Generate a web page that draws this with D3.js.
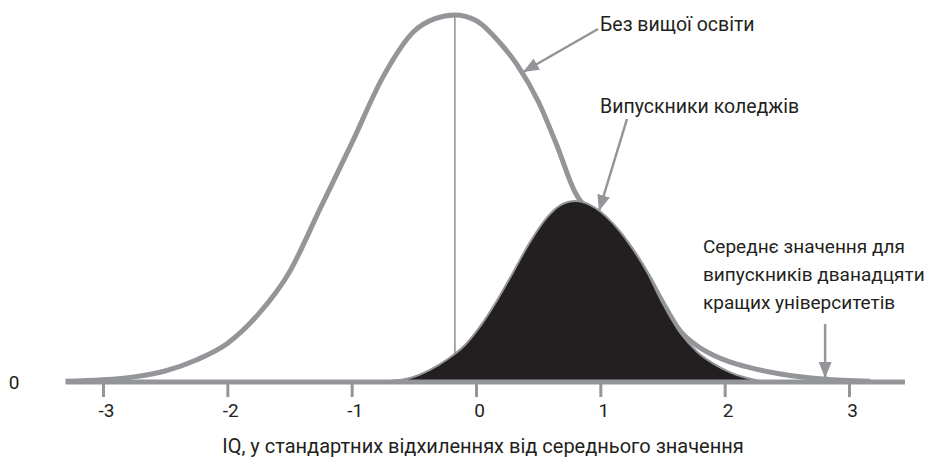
<!DOCTYPE html>
<html>
<head>
<meta charset="utf-8">
<script src="https://cdn.jsdelivr.net/npm/d3@7"></script>
<style>
  body { margin: 0; background: #fff; }
  text { font-family: Roboto, "Open Sans", sans-serif; fill: #231f20; }
</style>
</head>
<body>
<script>
// IQ in standard deviations, relative density (peak of the white curve = 1)
var noDegreeIQ = [-3.3, -3.0, -2.75, -2.5, -2.25, -2.0, -1.75, -1.5, -1.25, -1.0, -0.75, -0.5, -0.33, -0.17,
                  0.0, 0.19, 0.33, 0.5, 0.65, 0.8, 0.88, 0.95, 1.10, 1.24, 1.38, 1.50, 1.64, 1.78, 1.91, 2.04, 2.18,
                  2.45, 2.79, 3.17];
var noDegreeDensity = [0.002, 0.006, 0.014, 0.030, 0.060, 0.105, 0.185, 0.300, 0.475, 0.650, 0.830, 0.955, 0.990, 1.000,
                       0.985, 0.925, 0.865, 0.765, 0.645, 0.515, 0.478, 0.465, 0.425, 0.366, 0.292, 0.218, 0.140, 0.098,
                       0.073, 0.055, 0.041, 0.022, 0.008, 0.002];

var collegeIQ = [-0.69, -0.53, -0.37, -0.23, -0.09, 0.03, 0.17, 0.30, 0.43, 0.57, 0.68, 0.80, 0.92, 1.10,
                 1.24, 1.38, 1.50, 1.64, 1.78, 1.91, 2.04, 2.18, 2.28];
var collegeDensity = [0.003, 0.011, 0.033, 0.062, 0.100, 0.150, 0.223, 0.300, 0.379, 0.448, 0.482, 0.493, 0.482, 0.433,
                      0.373, 0.297, 0.215, 0.135, 0.082, 0.050, 0.027, 0.011, 0.003];

var meanNoDegree = -0.17;       // vertical line
var meanLineRange = [0.079, 1.0];
var topUniversitiesMean = 2.8;  // arrow on the axis

var tickValues = [-3, -2, -1, 0, 1, 2, 3];
var axisRange = [-3.3, 3.45];

var labelNoDegree = "Без вищої освіти";
var labelCollege = "Випускники коледжів";
var labelTop = ["Середнє значення для", "випускників дванадцяти", "кращих університетів"];
var xTitle = "IQ, у стандартних відхиленнях від середнього значення";

var grey = "#939598";
var width = 934, height = 460;

var svg = d3.select("body").append("svg")
    .attr("width", width)
    .attr("height", height);

var x = d3.scaleLinear().domain([-3, 3]).range([103, 849]);
var y = d3.scaleLinear().domain([0, 1]).range([382, 15]);

var noDegree = noDegreeIQ.map(function(d, i) { return [d, noDegreeDensity[i]]; });
var college = collegeIQ.map(function(d, i) { return [d, collegeDensity[i]]; });

var line = d3.line()
    .x(function(d) { return x(d[0]); })
    .y(function(d) { return y(d[1]); })
    .curve(d3.curveMonotoneX);

var area = d3.area()
    .x(function(d) { return x(d[0]); })
    .y0(y(0))
    .y1(function(d) { return y(d[1]); })
    .curve(d3.curveMonotoneX);

// arrow head
svg.append("defs").append("marker")
    .attr("id", "head")
    .attr("markerUnits", "userSpaceOnUse")
    .attr("viewBox", "0 -7 16 14")
    .attr("refX", 16).attr("refY", 0)
    .attr("markerWidth", 16).attr("markerHeight", 14)
    .attr("orient", "auto")
  .append("path")
    .attr("d", "M0,-6.5L16,0L0,6.5Z")
    .attr("fill", grey);

// ticks under the axis
var axis = d3.axisBottom(x)
    .tickValues(tickValues)
    .tickSize(15)
    .tickPadding(7)
    .tickFormat(function(d) { return String(d); });

var gx = svg.append("g")
    .attr("transform", "translate(0," + y(0) + ")")
    .call(axis);
gx.select(".domain").remove();
gx.selectAll(".tick line").attr("stroke", grey).attr("stroke-width", 3);
gx.selectAll(".tick text")
    .attr("fill", "#231f20")
    .attr("dx", 3)
    .style("font-family", "Roboto, sans-serif")
    .style("font-size", "19px");

// white curve
svg.append("path")
    .datum(noDegree)
    .attr("d", line)
    .attr("fill", "none")
    .attr("stroke", grey)
    .attr("stroke-width", 5);

// vertical line at the mean
svg.append("line")
    .attr("x1", x(meanNoDegree)).attr("x2", x(meanNoDegree))
    .attr("y1", y(meanLineRange[1])).attr("y2", y(meanLineRange[0]))
    .attr("stroke", grey)
    .attr("stroke-width", 1.6);

// college graduates
svg.append("path")
    .datum(college)
    .attr("d", area)
    .attr("fill", "#231f20")
    .attr("stroke", grey)
    .attr("stroke-width", 2);

// axis line
svg.append("line")
    .attr("x1", x(axisRange[0])).attr("x2", x(axisRange[1]))
    .attr("y1", y(0)).attr("y2", y(0))
    .attr("stroke", grey)
    .attr("stroke-width", 5);

svg.append("text")
    .attr("x", 14).attr("y", y(0) + 7)
    .attr("text-anchor", "middle")
    .style("font-size", "19px")
    .text("0");

// arrows
var arrows = [
    [598, 29, 523, 72],
    [627, 119, 599, 211],
    [x(topUniversitiesMean) + 1, 324, x(topUniversitiesMean) + 1, 378]
];
svg.selectAll("line.arrow")
    .data(arrows)
    .enter().append("line")
    .attr("class", "arrow")
    .attr("x1", function(d) { return d[0]; })
    .attr("y1", function(d) { return d[1]; })
    .attr("x2", function(d) { return d[2]; })
    .attr("y2", function(d) { return d[3]; })
    .attr("stroke", grey)
    .attr("stroke-width", 2.5)
    .attr("marker-end", "url(#head)");

// labels
svg.append("text").attr("x", 600).attr("y", 31)
    .style("font-size", "19.5px").text(labelNoDegree);
svg.append("text").attr("x", 600).attr("y", 113)
    .style("font-size", "19.5px").text(labelCollege);

svg.selectAll("text.top")
    .data(labelTop)
    .enter().append("text")
    .attr("class", "top")
    .attr("x", 703)
    .attr("y", function(d, i) { return 253 + i * 28; })
    .style("font-size", "19px")
    .text(function(d) { return d; });

svg.append("text")
    .attr("x", 483).attr("y", 453)
    .attr("text-anchor", "middle")
    .style("font-size", "20px")
    .text(xTitle);
</script>
</body>
</html>
